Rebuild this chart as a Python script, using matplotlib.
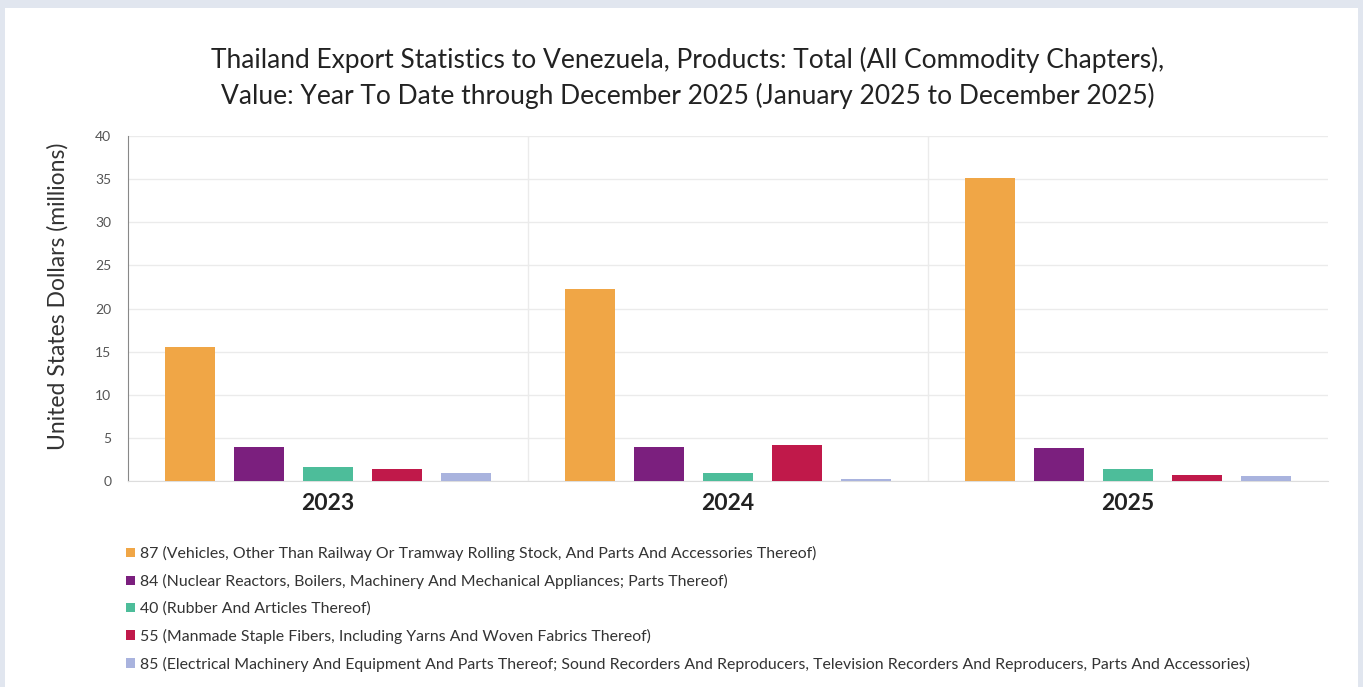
import matplotlib
matplotlib.use("Agg")
import matplotlib.pyplot as plt
import numpy as np
from matplotlib.patches import Rectangle, Patch

years = ["2023", "2024", "2025"]
series_labels = [
    "87 (Vehicles, Other Than Railway Or Tramway Rolling Stock, And Parts And Accessories Thereof)",
    "84 (Nuclear Reactors, Boilers, Machinery And Mechanical Appliances; Parts Thereof)",
    "40 (Rubber And Articles Thereof)",
    "55 (Manmade Staple Fibers, Including Yarns And Woven Fabrics Thereof)",
    "85 (Electrical Machinery And Equipment And Parts Thereof; Sound Recorders And Reproducers, Television Recorders And Reproducers, Parts And Accessories)",
]
v87 = [15.5, 22.3, 35.1]
v84 = [4.0, 4.0, 3.8]
v40 = [1.6, 0.9, 1.4]
v55 = [1.4, 4.2, 0.7]
v85 = [0.9, 0.2, 0.6]
values = [v87, v84, v40, v55, v85]
colors = ["#F0A646", "#7B1F7E", "#4DBD9A", "#C0194A", "#A9B3DE"]
yticks = [0, 5, 10, 15, 20, 25, 30, 35, 40]

plt.rcParams['font.family'] = ['Lato', 'DejaVu Sans']

fig = plt.figure(figsize=(13.63, 6.87), dpi=100)
fig.patch.set_facecolor("#E1E6EF")
fig.add_artist(Rectangle((5/1363, 0), 1353/1363, 1 - 8/687, transform=fig.transFigure,
                         facecolor="white", edgecolor="none", zorder=0))

ax = fig.add_axes([128/1363, 1 - 481/687, 1200/1363, 345/687])
ax.set_facecolor("none")

x = np.arange(len(years))
step = 0.1725
width = 0.125
for i, (vals, col, lab) in enumerate(zip(values, colors, series_labels)):
    ax.bar(x + (i - 2) * step, vals, width=width, color=col, label=lab, zorder=3)

ax.set_xlim(-0.5, 2.5)
ax.set_ylim(0, 40)
ax.set_yticks(yticks)
ax.set_yticklabels([str(t) for t in yticks], fontsize=10, color="#555555")
ax.set_xticks(x)
ax.set_xticklabels(years, fontsize=16.5, fontweight="bold", color="#222222")
ax.tick_params(axis="x", length=0, pad=9)
ax.tick_params(axis="y", length=0, pad=12)
ax.grid(axis="y", color="#EBEBEB", linewidth=1, zorder=0)
for b in [0.5, 1.5]:
    ax.axvline(b, color="#EBEBEB", linewidth=1, zorder=0)
for s in ["top", "right"]:
    ax.spines[s].set_visible(False)
ax.spines["left"].set_color("#888888")
ax.spines["bottom"].set_color("#DDDDDD")
ax.set_ylabel("United States Dollars (millions)", fontsize=16.5, color="#333333", labelpad=19)
ax.yaxis.label.set_y(0.536)

fig.text(688/1363, 1 - 60/687, "Thailand Export Statistics to Venezuela, Products: Total (All Commodity Chapters),",
         ha="center", va="center", fontsize=19, color="#222222")
fig.text(688/1363, 1 - 96/687, "Value: Year To Date through December 2025 (January 2025 to December 2025)",
         ha="center", va="center", fontsize=19, color="#222222")

handles = [Patch(facecolor=c, edgecolor="none") for c in colors]
fig.legend(handles, series_labels, loc="upper left", bbox_to_anchor=(112/1363, 1 - 532/687),
           frameon=False, fontsize=11.4, handlelength=0.55, handleheight=0.55, handletextpad=0.3,
           labelspacing=0.80, labelcolor="#333333")

fig.savefig("out.png", dpi=100)
